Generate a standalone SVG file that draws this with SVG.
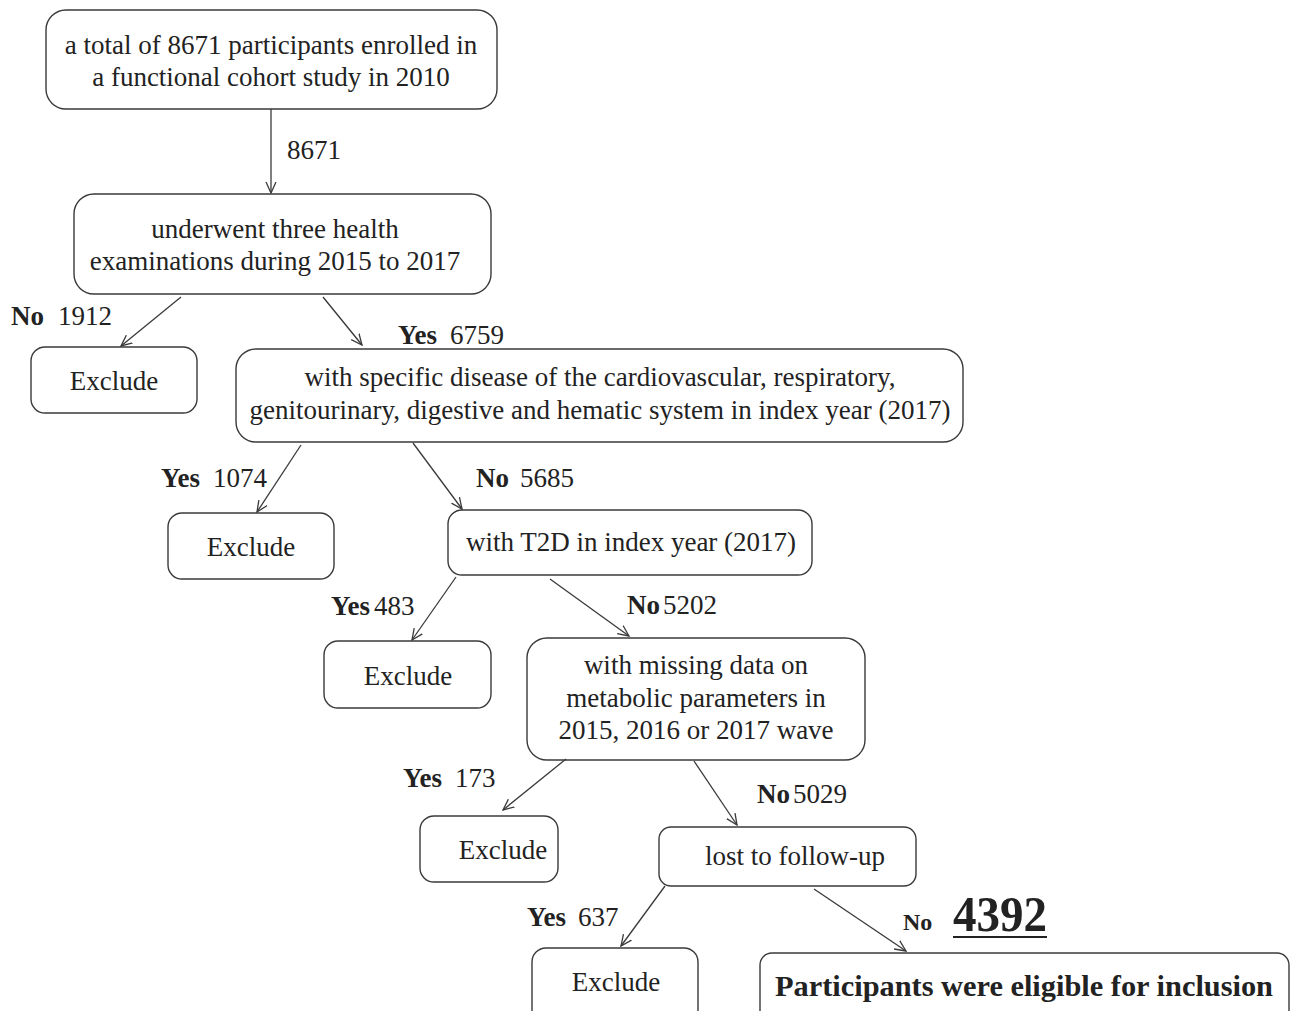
<svg xmlns="http://www.w3.org/2000/svg" width="1291" height="1011" viewBox="0 0 1291 1011">
<style>
.box{fill:#fff;stroke:#3a3a3a;stroke-width:1.4}
.t{font-family:"Liberation Serif","Times New Roman",serif;font-size:27px;fill:#222}
.c{text-anchor:middle}
.b{font-weight:bold}
.ln{stroke:#3a3a3a;stroke-width:1.3;fill:none;marker-end:url(#ah)}
</style>
<defs>
<marker id="ah" viewBox="0 0 12 12" refX="11" refY="6" markerWidth="12" markerHeight="12" markerUnits="userSpaceOnUse" orient="auto">
<polyline points="0,1 11,6 0,11" fill="none" stroke="#3a3a3a" stroke-width="1.3"/>
</marker>
</defs>
<rect width="1291" height="1011" fill="#fff"/>
<g id="n1"><rect class="box" x="46" y="10" width="451" height="99" rx="20"/>
<text class="t c" x="271" y="54">a total of 8671 participants enrolled in</text>
<text class="t c" x="271" y="86">a functional cohort study in 2010</text></g>
<g id="n2"><rect class="box" x="74" y="194" width="417" height="100" rx="20"/>
<text class="t c" x="275" y="238">underwent three health</text>
<text class="t c" x="275" y="270">examinations during 2015 to 2017</text></g>
<g id="e1"><rect class="box" x="31" y="347" width="166" height="66" rx="14"/>
<text class="t c" x="114" y="390">Exclude</text></g>
<g id="n3"><rect class="box" x="236" y="349" width="727" height="93" rx="20"/>
<text class="t c" x="600" y="386">with specific disease of the cardiovascular, respiratory,</text>
<text class="t c" x="600" y="419">genitourinary, digestive and hematic system in index year (2017)</text></g>
<g id="e2"><rect class="box" x="168" y="513" width="166" height="66" rx="14"/>
<text class="t c" x="251" y="556">Exclude</text></g>
<g id="n4"><rect class="box" x="448" y="510" width="364" height="65" rx="14"/>
<text class="t c" x="631" y="551">with T2D in index year (2017)</text></g>
<g id="e3"><rect class="box" x="324" y="641" width="167" height="67" rx="14"/>
<text class="t c" x="408" y="685">Exclude</text></g>
<g id="n5"><rect class="box" x="527" y="638" width="338" height="122" rx="20"/>
<text class="t c" x="696" y="674">with missing data on</text>
<text class="t c" x="696" y="707">metabolic parameters in</text>
<text class="t c" x="696" y="739">2015, 2016 or 2017 wave</text></g>
<g id="e4"><rect class="box" x="420" y="816" width="138" height="66" rx="14"/>
<text class="t c" x="503" y="859">Exclude</text></g>
<g id="n6"><rect class="box" x="659" y="827" width="257" height="59" rx="12"/>
<text class="t c" x="795" y="865">lost to follow-up</text></g>
<g id="e5"><rect class="box" x="532" y="948" width="166" height="80" rx="14"/>
<text class="t c" x="616" y="991">Exclude</text></g>
<g id="n7"><rect class="box" x="760" y="953" width="529" height="80" rx="12"/>
<text class="t c b" x="1024" y="996" style="font-size:30px" textLength="498" lengthAdjust="spacingAndGlyphs">Participants were eligible for inclusion</text></g>
<g id="connectors">
<line class="ln" x1="271" y1="109" x2="271" y2="193"/>
<line class="ln" x1="181" y1="297" x2="121" y2="346"/>
<line class="ln" x1="323" y1="297" x2="362" y2="345"/>
<line class="ln" x1="301" y1="445" x2="257" y2="512"/>
<line class="ln" x1="413" y1="443" x2="462" y2="509"/>
<line class="ln" x1="456" y1="577" x2="412" y2="640"/>
<line class="ln" x1="550" y1="579" x2="629" y2="636"/>
<line class="ln" x1="566" y1="759" x2="503" y2="810"/>
<line class="ln" x1="694" y1="761" x2="737" y2="825"/>
<line class="ln" x1="665" y1="886" x2="621" y2="946"/>
<line class="ln" x1="814" y1="889" x2="906" y2="951"/>
</g>
<g id="labels">
<text class="t" x="287" y="159">8671</text>
<text class="t b" x="11" y="325">No</text><text class="t" x="58" y="325">1912</text>
<text class="t b" x="398" y="344">Yes</text><text class="t" x="450" y="344">6759</text>
<text class="t b" x="161" y="487">Yes</text><text class="t" x="213" y="487">1074</text>
<text class="t b" x="476" y="487">No</text><text class="t" x="520" y="487">5685</text>
<text class="t b" x="331" y="615">Yes</text><text class="t" x="374" y="615">483</text>
<text class="t b" x="627" y="614">No</text><text class="t" x="663" y="614">5202</text>
<text class="t b" x="403" y="787">Yes</text><text class="t" x="455" y="787">173</text>
<text class="t b" x="757" y="803">No</text><text class="t" x="793" y="803">5029</text>
<text class="t b" x="527" y="926">Yes</text><text class="t" x="578" y="926">637</text>
<text class="t b" x="903" y="930" style="font-size:24px">No</text>
<text class="t b" x="953" y="931" style="font-size:50px" textLength="94" lengthAdjust="spacingAndGlyphs">4392</text>
<line x1="953" y1="937" x2="1047" y2="937" stroke="#222" stroke-width="2"/>
</g>
</svg>
